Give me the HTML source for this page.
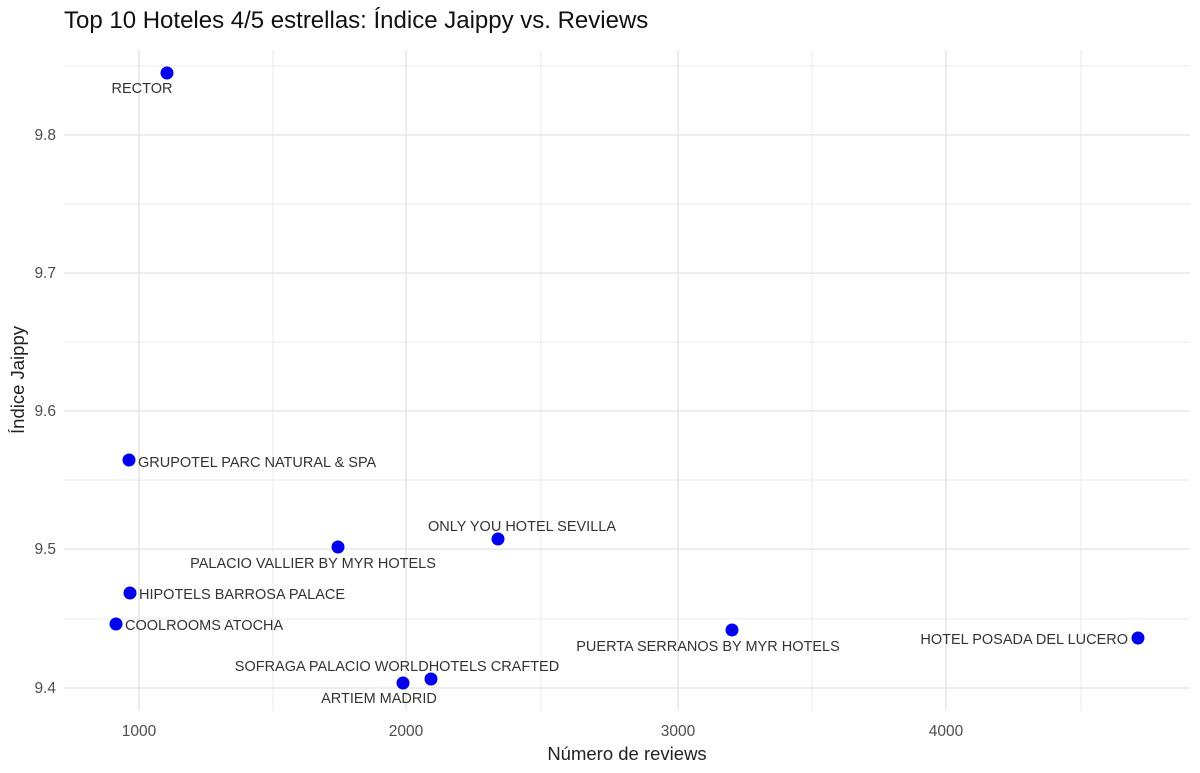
<!DOCTYPE html>
<html><head><meta charset="utf-8"><style>body{margin:0;background:#fff}svg{display:block}</style></head><body>
<svg width="1200" height="773" xmlns="http://www.w3.org/2000/svg" font-family="Liberation Sans, sans-serif">
<rect width="1200" height="773" fill="#fff"/>
<g stroke="#ebebeb" stroke-width="1">
<line x1="273" y1="50" x2="273" y2="711"/><line x1="541" y1="50" x2="541" y2="711"/><line x1="812" y1="50" x2="812" y2="711"/><line x1="1081" y1="50" x2="1081" y2="711"/>
<line x1="64" y1="66" x2="1190" y2="66"/><line x1="64" y1="204" x2="1190" y2="204"/><line x1="64" y1="342" x2="1190" y2="342"/><line x1="64" y1="480" x2="1190" y2="480"/><line x1="64" y1="619" x2="1190" y2="619"/>
</g>
<g stroke="#e2e2e2" stroke-width="1.3">
<line x1="139" y1="50" x2="139" y2="711"/><line x1="406" y1="50" x2="406" y2="711"/><line x1="678" y1="50" x2="678" y2="711"/><line x1="946" y1="50" x2="946" y2="711"/>
<line x1="64" y1="135" x2="1190" y2="135"/><line x1="64" y1="273" x2="1190" y2="273"/><line x1="64" y1="411" x2="1190" y2="411"/><line x1="64" y1="549" x2="1190" y2="549"/><line x1="64" y1="688" x2="1190" y2="688"/>
</g>
<g fill="#4d4d4d" font-size="15.5">
<text x="139" y="736" text-anchor="middle">1000</text><text x="406" y="736" text-anchor="middle">2000</text><text x="678" y="736" text-anchor="middle">3000</text><text x="946" y="736" text-anchor="middle">4000</text>
<g text-anchor="end"><text x="56" y="140">9.8</text><text x="56" y="278">9.7</text><text x="56" y="416">9.6</text><text x="56" y="554">9.5</text><text x="56" y="693">9.4</text></g>
</g>
<text x="627" y="760" text-anchor="middle" font-size="18.5" fill="#222">Número de reviews</text>
<text transform="translate(24,380) rotate(-90)" text-anchor="middle" font-size="18.5" fill="#222">Índice Jaippy</text>
<text x="64" y="28" font-size="24" fill="#111">Top 10 Hoteles 4/5 estrellas: Índice Jaippy vs. Reviews</text>
<g fill="#0000ee">
<circle cx="167" cy="73" r="6.5"/><circle cx="129" cy="460" r="6.5"/><circle cx="338" cy="547" r="6.5"/><circle cx="498" cy="539" r="6.5"/><circle cx="130" cy="593" r="6.5"/><circle cx="116" cy="624" r="6.5"/><circle cx="732" cy="630" r="6.5"/><circle cx="1138" cy="638" r="6.5"/><circle cx="431" cy="679" r="6.5"/><circle cx="403" cy="683" r="6.5"/>
</g>
<g font-size="14.5" fill="#333">
<text x="142" y="93" text-anchor="middle">RECTOR</text>
<text x="138" y="467">GRUPOTEL PARC NATURAL &amp; SPA</text>
<text x="313" y="568" text-anchor="middle">PALACIO VALLIER BY MYR HOTELS</text>
<text x="522" y="531" text-anchor="middle">ONLY YOU HOTEL SEVILLA</text>
<text x="139" y="599">HIPOTELS BARROSA PALACE</text>
<text x="125" y="630">COOLROOMS ATOCHA</text>
<text x="708" y="651" text-anchor="middle">PUERTA SERRANOS BY MYR HOTELS</text>
<text x="1128" y="644" text-anchor="end">HOTEL POSADA DEL LUCERO</text>
<text x="397" y="671" text-anchor="middle">SOFRAGA PALACIO WORLDHOTELS CRAFTED</text>
<text x="379" y="703" text-anchor="middle">ARTIEM MADRID</text>
</g>
</svg>
</body></html>
